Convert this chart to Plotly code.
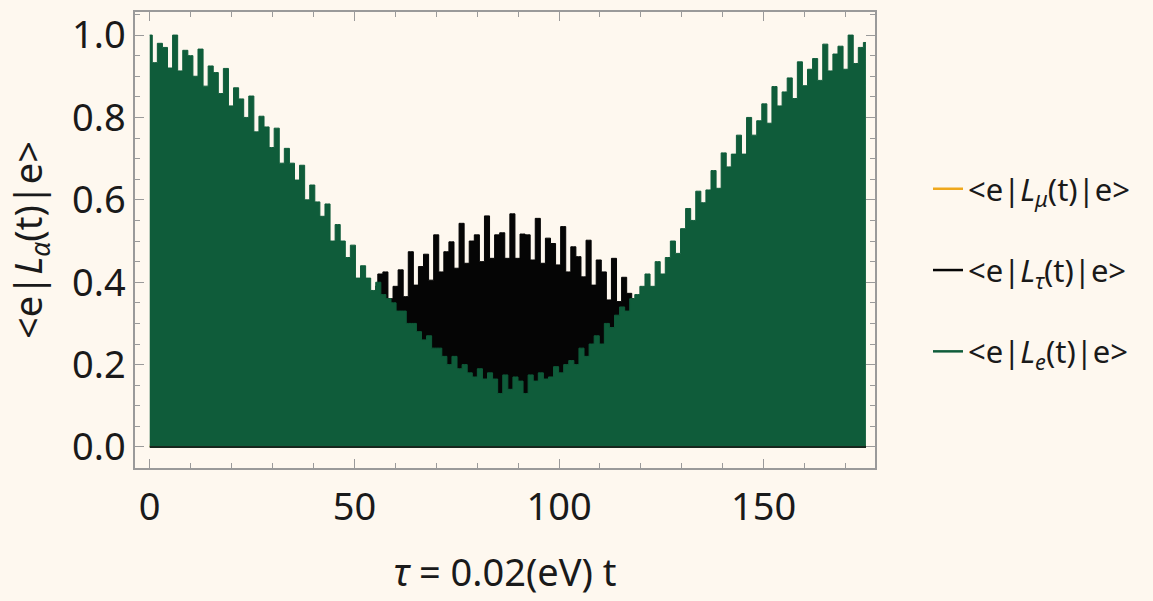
import plotly.graph_objects as go

# ---- data ----
SPIKE_PERIOD = 1.241      # spacing of the fast oscillation peaks (tau units)
TAU_PHASE = 0.4           # offset of the <e|L_tau|e> peaks, in periods
TAU_FIRST = 44            # index of the first visible <e|L_tau|e> peak

# peak heights of <e|L_e(t)|e>, one per fast oscillation
le_peaks = [
    1.0, 0.933, 0.98, 0.97, 0.92, 1.0, 0.913, 0.963, 0.95, 0.90,
    0.966, 0.876, 0.925, 0.909, 0.858, 0.919, 0.828, 0.872, 0.845, 0.80,
    0.852, 0.765, 0.803, 0.777, 0.727, 0.774, 0.689, 0.725, 0.689, 0.648,
    0.684, 0.60, 0.636, 0.595, 0.56, 0.59, 0.50, 0.54, 0.50, 0.46,
    0.49, 0.41, 0.44, 0.41, 0.38, 0.40, 0.37, 0.36, 0.35, 0.33,
    0.33, 0.30, 0.30, 0.28, 0.26, 0.27, 0.24, 0.24, 0.22, 0.20,
    0.22, 0.19, 0.20, 0.18, 0.17, 0.19, 0.165, 0.18, 0.165, 0.13,
    0.175, 0.14, 0.17, 0.16, 0.13, 0.175, 0.16, 0.18, 0.165, 0.17,
    0.195, 0.18, 0.20, 0.21, 0.20, 0.24, 0.22, 0.25, 0.27, 0.25,
    0.30, 0.29, 0.32, 0.34, 0.33, 0.36, 0.37, 0.39, 0.42, 0.39,
    0.45, 0.42, 0.46, 0.50, 0.47, 0.53, 0.579, 0.55, 0.621, 0.593,
    0.624, 0.671, 0.628, 0.714, 0.68, 0.711, 0.757, 0.711, 0.80, 0.757,
    0.792, 0.833, 0.786, 0.875, 0.828, 0.862, 0.896, 0.846, 0.935, 0.877,
    0.917, 0.943, 0.89, 0.978, 0.913, 0.954, 0.973, 0.917, 1.0, 0.931,
    0.97, 0.982,
]

# visible peak heights of <e|L_tau(t)|e> (middle region)
ltau_peaks = [
    0.39, 0.42, 0.425, 0.36, 0.39, 0.43, 0.365, 0.474, 0.393, 0.438,
    0.468, 0.405, 0.515, 0.425, 0.474, 0.498, 0.434, 0.543, 0.446, 0.50,
    0.515, 0.45, 0.561, 0.458, 0.515, 0.52, 0.458, 0.566, 0.458, 0.517,
    0.515, 0.454, 0.555, 0.446, 0.507, 0.494, 0.442, 0.535, 0.425, 0.486,
    0.462, 0.413, 0.502, 0.393, 0.454, 0.425, 0.357, 0.458, 0.353, 0.412,
    0.373, 0.36,
]
# minima of <e|L_tau(t)|e> (touches zero all along)
ltau_min_t = [0.0, 175.0]
ltau_min = [0.0, 0.0]

# <e|L_mu(t)|e> stays at ~0 (hidden under the others)
lmu_t = [0, 12.5, 25, 37.5, 50, 62.5, 75, 87.5, 100, 112.5, 125, 137.5, 150, 162.5, 175]
lmu = [0.003, 0.004, 0.002, 0.005, 0.003, 0.004, 0.002, 0.003, 0.004, 0.002, 0.005, 0.003, 0.004, 0.002, 0.003]

x_ticks = [0, 50, 100, 150]
y_ticks = [0.0, 0.2, 0.4, 0.6, 0.8, 1.0]

# ---- styles ----
BG = "#FEF8EF"
GREEN = "#0F5C3A"
BLACK = "#050505"
ORANGE = "#EFA81C"
FRAME = "#9A9A9A"
FONT = "Noto Sans"
TXT = "#1a1a1a"

le_t = [i * SPIKE_PERIOD for i in range(len(le_peaks))]
ltau_t = [(TAU_FIRST + i + TAU_PHASE) * SPIKE_PERIOD for i in range(len(ltau_peaks))]

name_mu = "&lt;e|<i>L</i><sub><i>μ</i></sub>(t)|e&gt;"
name_tau = "&lt;e|<i>L</i><sub><i>τ</i></sub>(t)|e&gt;"
name_e = "&lt;e|<i>L</i><sub><i>e</i></sub>(t)|e&gt;"

fig = go.Figure()
fig.add_trace(go.Scatter(x=lmu_t, y=lmu, mode="lines", line=dict(color=ORANGE, width=2.5),
                         name=name_mu, legendgroup="mu", showlegend=True))
fig.add_trace(go.Scatter(x=ltau_t, y=ltau_peaks, mode="lines", line=dict(color=BLACK, width=1, shape="hvh"),
                         fill="tozeroy", fillcolor=BLACK, legendgroup="tau", showlegend=False,
                         hoverinfo="skip"))
fig.add_trace(go.Scatter(x=le_t, y=le_peaks, mode="lines", line=dict(color=GREEN, width=1, shape="hvh"),
                         fill="tozeroy", fillcolor=GREEN, legendgroup="e", showlegend=False,
                         hoverinfo="skip"))
fig.add_trace(go.Scatter(x=ltau_min_t, y=ltau_min, mode="lines", line=dict(color="#17271d", width=2),
                         legendgroup="tau", showlegend=False, hoverinfo="skip"))
fig.add_trace(go.Scatter(x=[None], y=[None], mode="lines", line=dict(color=BLACK, width=2.5),
                         name=name_tau, legendgroup="tau", showlegend=True))
fig.add_trace(go.Scatter(x=[None], y=[None], mode="lines", line=dict(color=GREEN, width=2.5),
                         name=name_e, legendgroup="e", showlegend=True))

axis_common = dict(
    showline=True, linecolor=FRAME, linewidth=1.5, mirror="allticks",
    ticks="inside", tickcolor=FRAME, ticklen=9, tickwidth=1,
    showgrid=False, zeroline=False,
    tickfont=dict(family=FONT, size=38, color=TXT),
)

fig.update_layout(
    width=1153, height=601,
    margin=dict(l=135, r=278, t=12, b=133),
    paper_bgcolor=BG, plot_bgcolor=BG,
    font=dict(family=FONT, size=31, color=TXT),
    xaxis=dict(range=[-3.6, 177.2], tickvals=x_ticks, ticktext=[str(v) for v in x_ticks],
               minor=dict(dtick=10, tick0=0, ticks="inside", ticklen=5, tickcolor=FRAME),
               ticklabelstandoff=5,
               title=dict(text="<i>τ</i> = 0.02(eV) t", font=dict(family=FONT, size=38, color=TXT), standoff=29),
               automargin=False, **axis_common),
    yaxis=dict(range=[-0.051, 1.056], tickvals=y_ticks, ticktext=[f"{v:.1f}" for v in y_ticks],
               minor=dict(dtick=0.05, tick0=0, ticks="inside", ticklen=5, tickcolor=FRAME),
               title=dict(text="&lt;e|<i>L</i><sub><i>α</i></sub>(t)|e&gt;", font=dict(family=FONT, size=38, color=TXT), standoff=18),
               automargin=False, **axis_common),
    legend=dict(x=1.0716, xanchor="left", y=0.434, yanchor="middle",
                traceorder="grouped", tracegroupgap=38,
                font=dict(family=FONT, size=31, color=TXT),
                bgcolor="rgba(0,0,0,0)"),
    showlegend=True,
)

fig.write_html(
    "out.html",
    config={"displayModeBar": False},
    post_script="document.body.style.margin='0';document.body.style.background='" + BG + "';"
                "document.documentElement.style.background='" + BG + "';",
)
